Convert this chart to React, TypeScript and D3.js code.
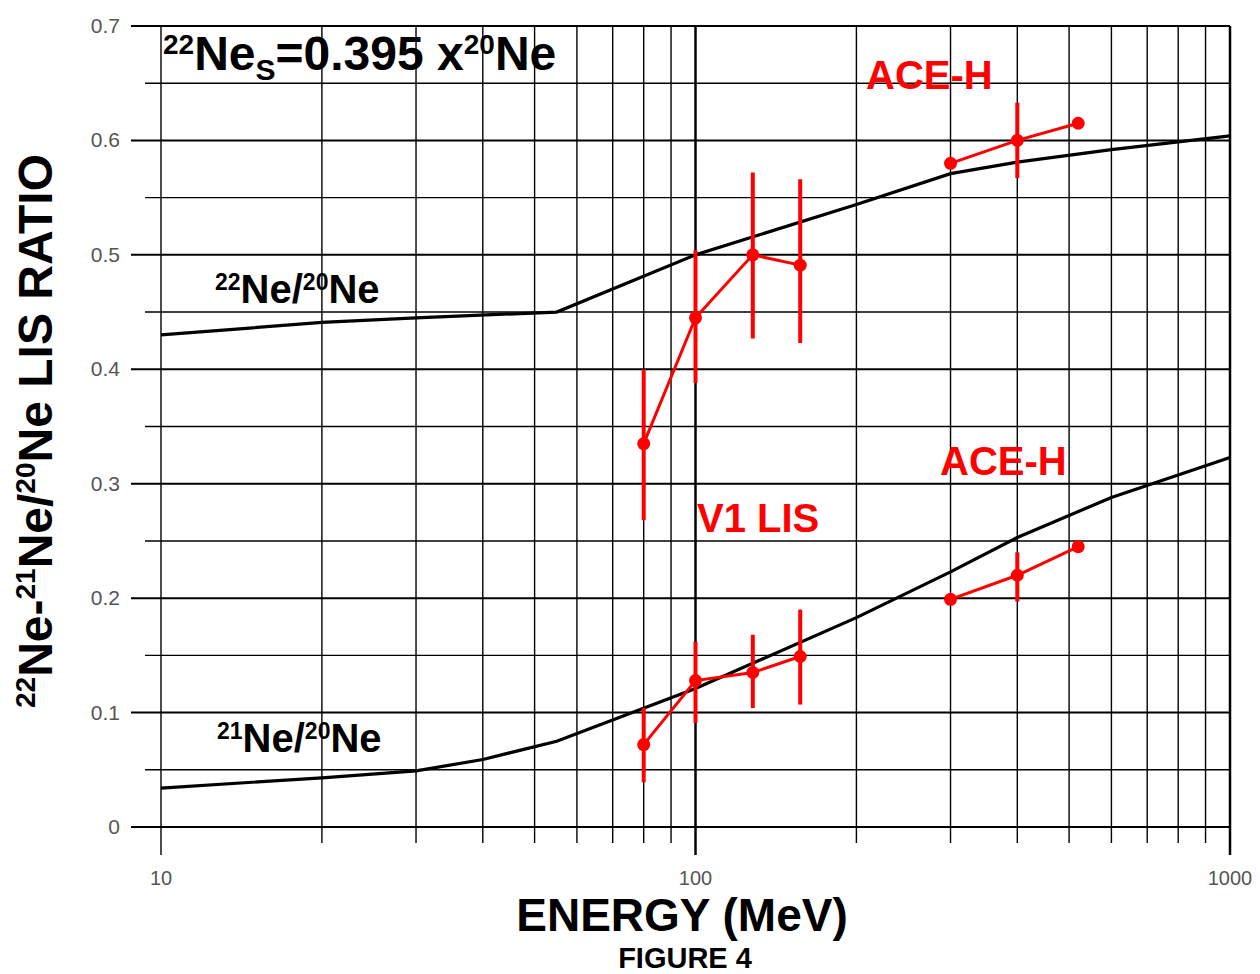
import React from "react";
import * as d3 from "d3";

// Model curves (energy MeV, ratio)
const ne22Energy = [10, 20, 30, 55, 100, 200, 300, 400, 600, 1000];
const ne22Ratio = [0.43, 0.441, 0.445, 0.45, 0.5, 0.544, 0.571, 0.581, 0.592, 0.604];
const ne21Energy = [10, 20, 30, 40, 55, 100, 200, 300, 400, 600, 1000];
const ne21Ratio = [0.034, 0.043, 0.049, 0.059, 0.075, 0.121, 0.183, 0.223, 0.253, 0.288, 0.323];

// V1 LIS data
const v1Energy = [80, 100, 128, 157];
const v1Ne22 = [0.335, 0.445, 0.5, 0.491];
const v1Ne22Lo = [0.268, 0.388, 0.427, 0.423];
const v1Ne22Hi = [0.4, 0.504, 0.572, 0.566];
const v1Ne21 = [0.072, 0.128, 0.135, 0.149];
const v1Ne21Lo = [0.039, 0.091, 0.104, 0.107];
const v1Ne21Hi = [0.104, 0.162, 0.168, 0.19];

// ACE-H data
const aceEnergy = [300, 400, 520];
const aceNe22 = [0.58, 0.6, 0.615];
const aceNe22Lo = [null, 0.567, null];
const aceNe22Hi = [null, 0.633, null];
const aceNe21 = [0.199, 0.22, 0.245];
const aceNe21Lo = [null, 0.197, null];
const aceNe21Hi = [null, 0.24, null];

const yTicks = [0, 0.1, 0.2, 0.3, 0.4, 0.5, 0.6, 0.7];
const yMinor = [0.05, 0.15, 0.25, 0.35, 0.45, 0.55, 0.65];
const xTickLabels = [10, 100, 1000];

const W = 1260, H = 974;
const x = d3.scaleLog().domain([10, 1000]).range([161, 1230]);
const y = d3.scaleLinear().domain([0, 0.7]).range([827, 26]);

const FONT = "'Liberation Sans', Arial, sans-serif";
const RED = "#ff0000";

function series(es: number[], vs: number[]) {
  return es.map((e, i) => [e, vs[i]] as [number, number]);
}

export default function App() {
  const line = d3.line<[number, number]>().x((d) => x(d[0])).y((d) => y(d[1]));
  const xGrid: number[] = [];
  for (const dec of [10, 100]) for (let k = 1; k <= 9; k++) xGrid.push(dec * k);
  xGrid.push(1000);

  const dataSets = [
    { e: v1Energy, v: v1Ne22, lo: v1Ne22Lo, hi: v1Ne22Hi },
    { e: v1Energy, v: v1Ne21, lo: v1Ne21Lo, hi: v1Ne21Hi },
    { e: aceEnergy, v: aceNe22, lo: aceNe22Lo, hi: aceNe22Hi },
    { e: aceEnergy, v: aceNe21, lo: aceNe21Lo, hi: aceNe21Hi },
  ];

  return (
    <svg width={W} height={H} style={{ display: "block", position: "absolute", left: 0, top: 0, background: "#fff" }} fontFamily={FONT}>
      <rect x={0} y={0} width={W} height={H} fill="#fff" />
      {/* vertical grid */}
      {xGrid.map((v) => {
        const major = v === 10 || v === 100 || v === 1000;
        return (
          <line key={"vx" + v} x1={x(v)} x2={x(v)} y1={y(0.7)} y2={major ? 855 : 843}
            stroke="#000" strokeWidth={v === 100 || v === 1000 ? 2.5 : 1.4} />
        );
      })}
      {/* horizontal grid */}
      {yMinor.map((v) => (
        <line key={"hm" + v} x1={145} x2={x(1000)} y1={y(v)} y2={y(v)} stroke="#000" strokeWidth={1.4} />
      ))}
      {yTicks.map((v) => (
        <line key={"hM" + v} x1={131} x2={x(1000)} y1={y(v)} y2={y(v)} stroke="#000" strokeWidth={2} />
      ))}
      {/* y tick labels */}
      {yTicks.map((v) => (
        <text key={"yl" + v} x={120} y={y(v) + 7} textAnchor="end" fontSize={21} fill="#555">
          {v === 0 ? "0" : v.toFixed(1)}
        </text>
      ))}
      {/* x tick labels */}
      {xTickLabels.map((v) => (
        <text key={"xl" + v} x={x(v)} y={885} textAnchor="middle" fontSize={20} fill="#555">
          {v}
        </text>
      ))}
      {/* model curves */}
      <path d={line(series(ne22Energy, ne22Ratio)) || ""} fill="none" stroke="#000" strokeWidth={3.2} />
      <path d={line(series(ne21Energy, ne21Ratio)) || ""} fill="none" stroke="#000" strokeWidth={3.2} />
      {/* data */}
      {dataSets.map((ds, si) => (
        <g key={"ds" + si}>
          {ds.e.map((e, i) =>
            ds.lo[i] != null ? (
              <line key={"eb" + i} x1={x(e)} x2={x(e)} y1={y(ds.lo[i] as number)} y2={y(ds.hi[i] as number)}
                stroke={RED} strokeWidth={4} />
            ) : null
          )}
          <path d={line(series(ds.e, ds.v)) || ""} fill="none" stroke={RED} strokeWidth={3} />
          {ds.e.map((e, i) => (
            <circle key={"pt" + i} cx={x(e)} cy={y(ds.v[i])} r={6.5} fill={RED} />
          ))}
        </g>
      ))}
      {/* annotations */}
      <text x={163} y={70} fontSize={48} fontWeight="bold" fill="#000">
        <tspan fontSize={28} dy={-16}>22</tspan>
        <tspan dy={16}>Ne</tspan>
        <tspan fontSize={30} dy={10}>S</tspan>
        <tspan dy={-10}>=0.395 x</tspan>
        <tspan fontSize={28} dy={-16}>20</tspan>
        <tspan dy={16}>Ne</tspan>
      </text>
      <text x={215} y={303} fontSize={40} fontWeight="bold" fill="#000">
        <tspan fontSize={23} dy={-13}>22</tspan>
        <tspan dy={13}>Ne/</tspan>
        <tspan fontSize={23} dy={-13}>20</tspan>
        <tspan dy={13}>Ne</tspan>
      </text>
      <text x={217} y={752} fontSize={40} fontWeight="bold" fill="#000">
        <tspan fontSize={23} dy={-13}>21</tspan>
        <tspan dy={13}>Ne/</tspan>
        <tspan fontSize={23} dy={-13}>20</tspan>
        <tspan dy={13}>Ne</tspan>
      </text>
      <text x={866} y={89} fontSize={40} fontWeight="bold" fill={RED}>ACE-H</text>
      <text x={940} y={475} fontSize={40} fontWeight="bold" fill={RED}>ACE-H</text>
      <text x={697} y={532} fontSize={40} fontWeight="bold" fill={RED}>V1 LIS</text>
      {/* axis titles */}
      <text transform="translate(52,431) rotate(-90)" textAnchor="middle" fontSize={48} fontWeight="bold" fill="#000">
        <tspan fontSize={28} dy={-17}>22</tspan>
        <tspan dy={17}>Ne-</tspan>
        <tspan fontSize={28} dy={-17}>21</tspan>
        <tspan dy={17}>Ne/</tspan>
        <tspan fontSize={28} dy={-17}>20</tspan>
        <tspan dy={17}>Ne LIS RATIO</tspan>
      </text>
      <text x={682} y={931} textAnchor="middle" fontSize={46} fontWeight="bold" fill="#000">ENERGY (MeV)</text>
      <text x={685} y={968} textAnchor="middle" fontSize={29} fontWeight="bold" fill="#000">FIGURE 4</text>
    </svg>
  );
}
